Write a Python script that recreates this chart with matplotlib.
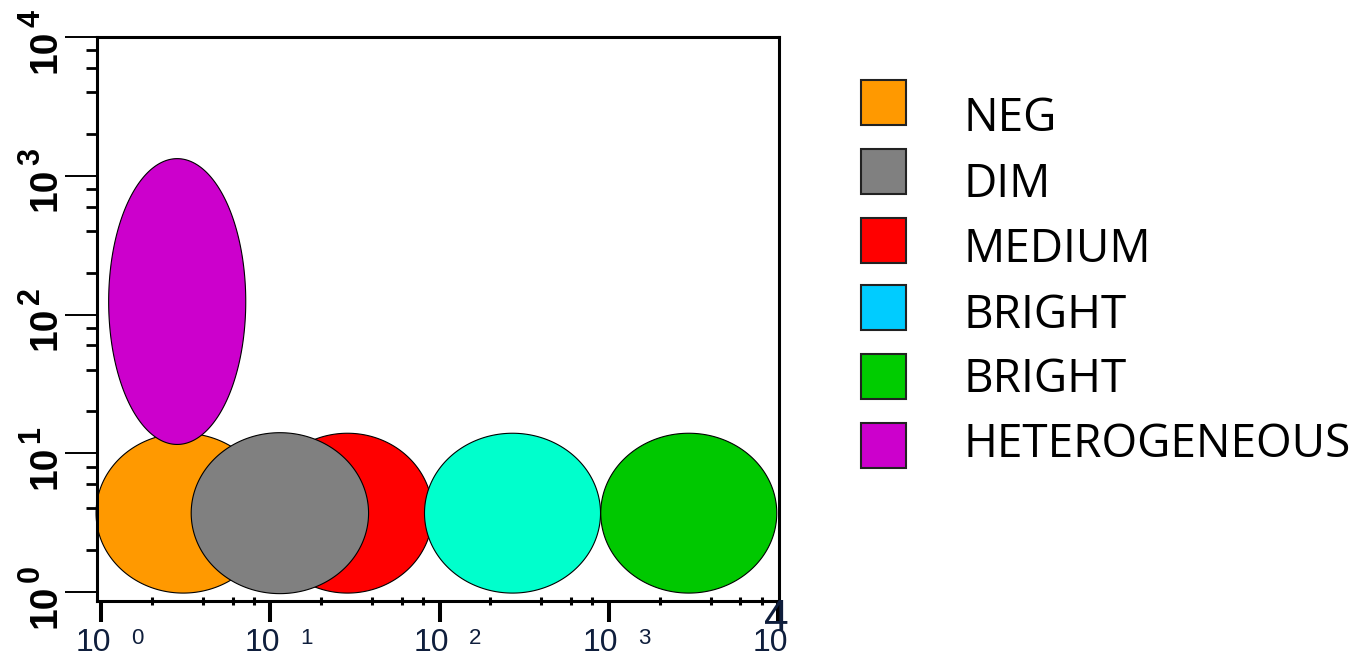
import numpy as np
import matplotlib
matplotlib.use("Agg")
import matplotlib.pyplot as plt
import matplotlib.transforms as mtransforms
from matplotlib.ticker import FixedLocator, NullFormatter
from matplotlib.patches import Rectangle

# ---------------- data ----------------
labels = ['NEG', 'DIM', 'MEDIUM', 'BRIGHT', 'BRIGHT', 'HETEROGENEOUS']
legend_colors = ['#FF9900', '#808080', '#FF0000', '#00CCFF', '#00CC00', '#CC00CC']
fill_colors = ['#FF9900', '#808080', '#FF0000', '#00FFCC', '#00C800', '#CC00CC']
center_x = [3.06, 11.4, 28.6, 270.0, 2970.0, 2.82]
center_y = [3.7, 3.7, 3.7, 3.7, 3.7, 124.0]
spread_x = [0.515, 0.524, 0.503, 0.52, 0.52, 0.405]   # half-width, decades
spread_y = [0.576, 0.58, 0.576, 0.576, 0.576, 1.03]   # half-height, decades
draw_order = [2, 5, 3, 4, 4, 6]

major_ticks = [1, 10, 100, 1000, 10000]
tick_exponents = ['0', '1', '2', '3', '4']
minor_subs = [2, 4, 6, 8]

# ---------------- figure ----------------
W, H = 1354, 658
fig = plt.figure(figsize=(W / 100, H / 100), dpi=100)
left_px, right_px, top_px, bottom_px = 97, 779, 37, 601
ax = fig.add_axes([left_px / W, 1 - bottom_px / H,
                   (right_px - left_px) / W, (bottom_px - top_px) / H])
ax.set_xscale('log')
ax.set_yscale('log')
ax.set_xlim(10 ** (-4 / 169.25), 10 ** (4 + 1 / 169.25))
ax.set_ylim(10 ** (-9 / 138.75), 10 ** 4)

t = np.linspace(0, 2 * np.pi, 400)
for cx, cy, sx, sy, col, z in zip(center_x, center_y, spread_x, spread_y,
                                  fill_colors, draw_order):
    lx = np.log10(cx) + sx * np.cos(t)
    ly = np.log10(cy) + sy * np.sin(t)
    ax.fill(10 ** lx, 10 ** ly, facecolor=col, edgecolor='black',
            linewidth=0.8, zorder=z, clip_on=False)

for sp in ax.spines.values():
    sp.set_linewidth(2.2)

minors = [s * 10 ** k for k in range(4) for s in minor_subs]
ax.xaxis.set_major_locator(FixedLocator(major_ticks))
ax.yaxis.set_major_locator(FixedLocator(major_ticks))
ax.xaxis.set_minor_locator(FixedLocator(minors))
ax.yaxis.set_minor_locator(FixedLocator(minors))
for a in (ax.xaxis, ax.yaxis):
    a.set_major_formatter(NullFormatter())
    a.set_minor_formatter(NullFormatter())
ax.tick_params(axis='x', which='major', direction='out', length=15, width=2.9)
ax.tick_params(axis='x', which='minor', direction='inout', length=6, width=2.2)
ax.tick_params(axis='y', which='major', direction='out', length=23, width=1.4)
ax.tick_params(axis='y', which='minor', direction='out', length=8, width=2.0)

# ---------------- tick labels ----------------
lab_col = '#0f1e3c'
bx = mtransforms.blended_transform_factory(ax.transData, fig.transFigure)
for i, (v, e) in enumerate(zip(major_ticks, tick_exponents)):
    tr = mtransforms.offset_copy(bx, fig=fig, x=-8, y=0, units='dots')
    ax.text(v, 1 - 651 / H, '10', transform=tr, ha='center', va='baseline',
            fontsize=23, family='Liberation Sans', color=lab_col)
    if i < len(major_ticks) - 1:
        tr2 = mtransforms.offset_copy(bx, fig=fig, x=36, y=0, units='dots')
        ax.text(v, 1 - 644 / H, e, transform=tr2, ha='center', va='baseline',
                fontsize=16, family='Liberation Sans', color=lab_col)
    else:
        tr2 = mtransforms.offset_copy(bx, fig=fig, x=-2, y=0, units='dots')
        ax.text(v, 1 - 631 / H, e, transform=tr2, ha='center', va='baseline',
                fontsize=32, family='Liberation Sans', color=lab_col)

by = mtransforms.blended_transform_factory(fig.transFigure, ax.transData)
for v, e in zip(major_ticks, tick_exponents):
    tr = mtransforms.offset_copy(by, fig=fig, x=0, y=-14, units='dots')
    ax.text(45 / W, v, '10', transform=tr, rotation=90, ha='center',
            va='center', fontsize=28, fontweight='bold',
            family='Liberation Sans', color='black', clip_on=False)
    tr2 = mtransforms.offset_copy(by, fig=fig, x=0, y=19, units='dots')
    ax.text(31 / W, v, e, transform=tr2, rotation=90, ha='center',
            va='center', fontsize=22, fontweight='bold',
            family='Liberation Sans', color='black', clip_on=False)

# ---------------- legend ----------------
sq_centers = [102.5, 171.5, 240.5, 307.5, 376.5, 445.5]
txt_baselines = [131, 197, 262, 328, 392, 457]
for lab, col, sc, tb in zip(labels, legend_colors, sq_centers, txt_baselines):
    fig.patches.append(Rectangle((861 / W, 1 - (sc + 22.5) / H), 45 / W, 45 / H,
                                 transform=fig.transFigure, facecolor=col,
                                 edgecolor='#222222', linewidth=1.5))
    fig.text(963 / W, 1 - tb / H, lab, ha='left', va='baseline',
             fontsize=33, family='Open Sans', color='black')

fig.savefig('out.png', dpi=100)
